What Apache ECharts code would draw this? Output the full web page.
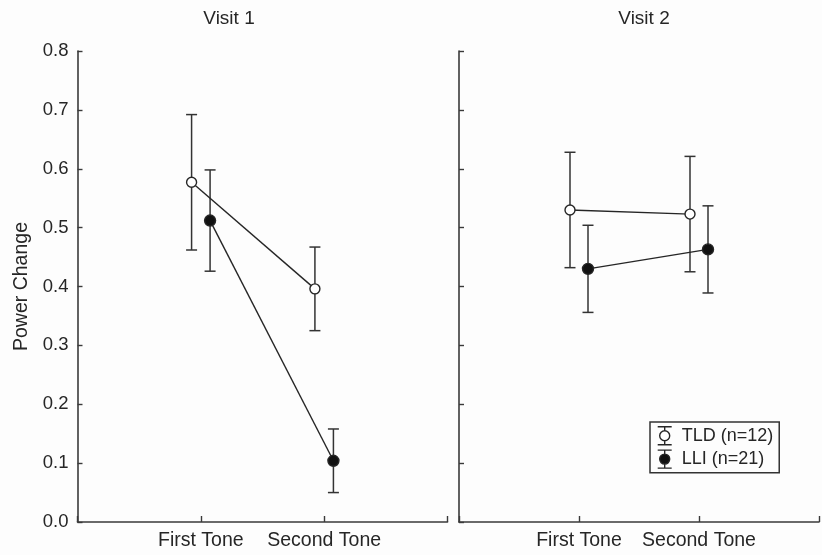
<!DOCTYPE html>
<html>
<head>
<meta charset="utf-8">
<style>
  html, body { margin: 0; padding: 0; background: #fdfdfd; }
  #chart { width: 822px; height: 555px; }
</style>
<script src="https://cdn.jsdelivr.net/npm/echarts@6/dist/echarts.min.js"></script>
</head>
<body>
<div id="chart"></div>
<script>
// Condition labels on the x axis
const categories = ['First Tone', 'Second Tone'];
const panelTitles = ['Visit 1', 'Visit 2'];
const groupNames = ['TLD (n=12)', 'LLI (n=21)'];
const yTicks = [0.0, 0.1, 0.2, 0.3, 0.4, 0.5, 0.6, 0.7, 0.8];

// Mean power change and its error, per visit and group
const visit1TldMean = [0.577, 0.396];
const visit1TldErr  = [0.115, 0.071];
const visit1LliMean = [0.512, 0.104];
const visit1LliErr  = [0.086, 0.054];

const visit2TldMean = [0.530, 0.523];
const visit2TldErr  = [0.098, 0.098];
const visit2LliMean = [0.430, 0.463];
const visit2LliErr  = [0.074, 0.074];

const FONT = '"Liberation Sans", Arial, sans-serif';
const INK = '#262626';
const AXIS = '#3a3a3a';
const DODGE = 0.075; // horizontal nudge so the two groups do not overlap

const chart = echarts.init(document.getElementById('chart'), null, { renderer: 'canvas' });

function xPos(i, groupIdx) {
  return i + 1 + (groupIdx === 0 ? -DODGE : DODGE);
}

function meanSeries(name, means, groupIdx, axisIdx) {
  const filled = groupIdx === 1;
  return {
    name: name,
    type: 'line',
    xAxisIndex: axisIdx,
    yAxisIndex: axisIdx,
    data: means.map((v, i) => [xPos(i, groupIdx), v]),
    symbol: 'circle',
    symbolSize: filled ? 11 : 10,
    showSymbol: true,
    lineStyle: { color: INK, width: 1.4 },
    itemStyle: {
      color: filled ? '#111' : '#fff',
      borderColor: INK,
      borderWidth: 1.4
    },
    emphasis: { disabled: true },
    z: 5,
    animation: false
  };
}

function errSeries(name, means, errs, groupIdx, axisIdx) {
  return {
    name: name,
    type: 'custom',
    xAxisIndex: axisIdx,
    yAxisIndex: axisIdx,
    data: means.map((v, i) => [xPos(i, groupIdx), v - errs[i], v + errs[i]]),
    renderItem: function (params, api) {
      const x = api.value(0);
      const lo = api.coord([x, api.value(1)]);
      const hi = api.coord([x, api.value(2)]);
      const cap = 5.5;
      const style = { stroke: '#333', lineWidth: 1.5 };
      return {
        type: 'group',
        children: [
          { type: 'line', shape: { x1: lo[0], y1: lo[1], x2: hi[0], y2: hi[1] }, style: style },
          { type: 'line', shape: { x1: hi[0] - cap, y1: hi[1], x2: hi[0] + cap, y2: hi[1] }, style: style },
          { type: 'line', shape: { x1: lo[0] - cap, y1: lo[1], x2: lo[0] + cap, y2: lo[1] }, style: style }
        ]
      };
    },
    encode: { x: 0, y: [1, 2] },
    z: 3,
    silent: true,
    animation: false
  };
}

function xAxisFor(gridIdx) {
  return {
    type: 'value',
    gridIndex: gridIdx,
    min: 0,
    max: 3,
    interval: 1,
    splitLine: { show: false },
    axisLine: { lineStyle: { color: AXIS, width: 1.6 } },
    axisTick: { inside: true, length: 6, lineStyle: { color: AXIS, width: 1.4 } },
    axisLabel: {
      margin: 9,
      fontFamily: FONT,
      fontSize: 19.5,
      color: INK,
      formatter: function (v) {
        const k = Math.round(v) - 1;
        return (k >= 0 && k < categories.length) ? categories[k] : '';
      }
    }
  };
}

function yAxisFor(gridIdx, showLabels) {
  const ax = {
    type: 'value',
    gridIndex: gridIdx,
    min: yTicks[0],
    max: yTicks[yTicks.length - 1],
    interval: 0.1,
    splitLine: { show: false },
    axisLine: { show: true, lineStyle: { color: AXIS, width: 1.6 } },
    axisTick: { show: true, inside: true, length: 5, lineStyle: { color: AXIS, width: 1.4 } },
    axisLabel: {
      show: showLabels,
      margin: 9,
      fontFamily: FONT,
      fontSize: 18.5,
      color: INK,
      formatter: function (v) { return v.toFixed(1); }
    }
  };
  if (showLabels) {
    ax.name = 'Power Change';
    ax.nameLocation = 'middle';
    ax.nameRotate = 90;
    ax.nameGap = 46;
    ax.nameTextStyle = { fontFamily: FONT, fontSize: 19.5, color: INK };
  }
  return ax;
}

// Legend glyph: open/filled circle with an error bar through it
const legendIcon = 'path://M0,0 L14,0 M7,0 L7,4 M7,14 L7,18 M0,18 L14,18 M12,9 A5,5 0 1,1 2,9 A5,5 0 1,1 12,9 Z';

const titleStyle = { fontFamily: FONT, fontSize: 19, fontWeight: 'normal', color: INK };

const option = {
  backgroundColor: '#fdfdfd',
  animation: false,
  title: [
    { text: panelTitles[0], left: 229, top: 9, textAlign: 'center', padding: 0, textStyle: titleStyle },
    { text: panelTitles[1], left: 644, top: 9, textAlign: 'center', padding: 0, textStyle: titleStyle }
  ],
  legend: {
    orient: 'vertical',
    left: 650,
    top: 422,
    padding: [4, 6, 4, 7],
    itemGap: 4,
    itemWidth: 14,
    itemHeight: 18,
    selectedMode: false,
    borderColor: '#333',
    borderWidth: 1.5,
    backgroundColor: '#fdfdfd',
    textStyle: { fontFamily: FONT, fontSize: 18, color: INK, padding: [0, 0, 0, 5] },
    data: [
      { name: groupNames[0], icon: legendIcon,
        itemStyle: { color: '#fff', borderColor: INK, borderWidth: 1.4 } },
      { name: groupNames[1], icon: legendIcon,
        itemStyle: { color: '#111', borderColor: INK, borderWidth: 1.4 } }
    ]
  },
  grid: [
    { left: 77.5, top: 51, width: 370, height: 471 },
    { left: 459, top: 51, width: 370, height: 471 }
  ],
  xAxis: [xAxisFor(0), xAxisFor(1)],
  yAxis: [yAxisFor(0, true), yAxisFor(1, false)],
  series: [
    errSeries(groupNames[0], visit1TldMean, visit1TldErr, 0, 0),
    errSeries(groupNames[1], visit1LliMean, visit1LliErr, 1, 0),
    errSeries(groupNames[0], visit2TldMean, visit2TldErr, 0, 1),
    errSeries(groupNames[1], visit2LliMean, visit2LliErr, 1, 1),
    meanSeries(groupNames[0], visit1TldMean, 0, 0),
    meanSeries(groupNames[1], visit1LliMean, 1, 0),
    meanSeries(groupNames[0], visit2TldMean, 0, 1),
    meanSeries(groupNames[1], visit2LliMean, 1, 1)
  ]
};

chart.setOption(option);
</script>
</body>
</html>
